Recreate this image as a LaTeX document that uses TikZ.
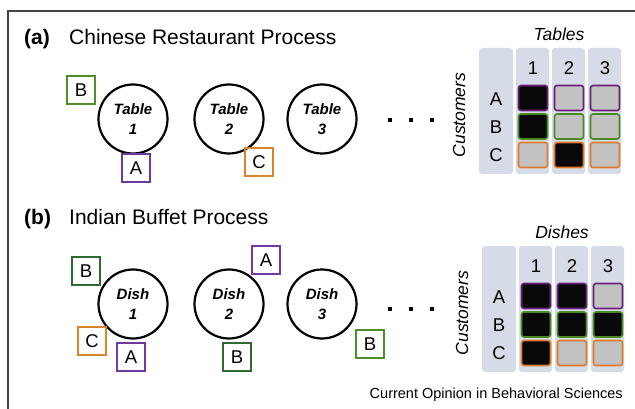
\documentclass[tikz,border=0pt]{standalone}
\usepackage{fontspec}
\setmainfont{Liberation Sans}
\definecolor{panelc}{HTML}{D6DBE8}
\definecolor{cellgray}{HTML}{C2C2C2}
\definecolor{cellblack}{HTML}{080808}
\definecolor{cpurple}{HTML}{7038A0}
\definecolor{cgreen}{HTML}{4F8F2A}
\definecolor{cdgreen}{HTML}{2F6A33}
\definecolor{corange}{HTML}{D9862B}
\definecolor{mpurple}{HTML}{6A2078}
\definecolor{mgreen}{HTML}{4A8A22}
\definecolor{morange}{HTML}{E07A28}
\definecolor{framec}{HTML}{444444}
\tikzset{
  panel/.style={fill=panelc, rounded corners=3pt, draw=none},
  cellbox/.style={rounded corners=2.5pt, line width=1.6pt, minimum width=29pt, minimum height=25pt, inner sep=0pt},
  cust/.style={draw, line width=1.3pt, minimum size=28pt, inner sep=0pt, font=\fontsize{18.5}{20}\selectfont},
  circ/.style={circle, draw, line width=2.2pt, minimum size=69pt, inner sep=0pt, align=center, font=\fontsize{15}{20}\selectfont\bfseries\itshape},
  title/.style={anchor=base west, inner sep=0pt, font=\fontsize{21}{24}\selectfont},
  lbl/.style={inner sep=0pt, font=\fontsize{18.5}{20}\selectfont},
  ilbl/.style={inner sep=0pt, font=\fontsize{17.5}{20}\selectfont\itshape},
  dotsq/.style={fill=black, minimum size=4pt, inner sep=0pt},
}
\begin{document}
\begin{tikzpicture}[x=1pt,y=-1pt]
\useasboundingbox (0,0) rectangle (635,409);
% frame
\coordinate (fbl) at (8,410);
\coordinate (ftl) at (8,11);
\coordinate (ftr) at (636,11);
\draw[framec, line width=1.6pt] (fbl) -- (ftl) -- (ftr);

% ---------- (a) ----------
\node[title, font=\fontsize{21}{24}\selectfont\bfseries] (alab) at (24,45) {(a)};
\node[title] (atitle) at (69,45) {Chinese Restaurant Process};
\node[circ] (t1) at (133,119) {Table\\1};
\node[circ] (t2) at (229,119) {Table\\2};
\node[circ] (t3) at (322,119) {Table\\3};
\node[cust, draw=cgreen] (aB) at (81,90) {B};
\node[cust, draw=cpurple] (aA) at (136,168) {A};
\node[cust, draw=corange] (aC) at (259,162) {C};
\node[dotsq] (ad1) at (390,120) {};
\node[dotsq] (ad2) at (411,120) {};
\node[dotsq] (ad3) at (432,120) {};

% ---------- (b) ----------
\node[title, font=\fontsize{21}{24}\selectfont\bfseries] (blab) at (24,224) {(b)};
\node[title] (btitle) at (69,224) {Indian Buffet Process};
\node[circ] (d1) at (133,304) {Dish\\1};
\node[circ] (d2) at (229,304) {Dish\\2};
\node[circ] (d3) at (322,304) {Dish\\3};
\node[cust, draw=cdgreen] (bB1) at (86,271) {B};
\node[cust, draw=corange] (bC1) at (92,341) {C};
\node[cust, draw=cpurple] (bA1) at (131,357) {A};
\node[cust, draw=cpurple] (bA2) at (266,260) {A};
\node[cust, draw=cdgreen] (bB2) at (237,357) {B};
\node[cust, draw=cgreen] (bB3) at (370,344) {B};
\node[dotsq] (bd1) at (390,309) {};
\node[dotsq] (bd2) at (411,309) {};
\node[dotsq] (bd3) at (432,309) {};

% ---------- matrices ----------
\foreach \ox/\oy/\pre/\head/\fills in {479/48/ma/Tables/{cellblack,cellgray,cellgray,cellblack,cellgray,cellgray,cellgray,cellblack,cellgray},
                                        482/246/mb/Dishes/{cellblack,cellblack,cellgray,cellblack,cellblack,cellblack,cellblack,cellgray,cellgray}}{
  \begin{scope}[shift={(\ox pt,-\oy pt)}, name prefix=\pre-]
    \fill[panel] (0,0) rectangle (34,126);
    \fill[panel] (37,0) rectangle (70,126);
    \fill[panel] (73,0) rectangle (106,126);
    \fill[panel] (109,0) rectangle (142,126);
    \node[ilbl] (head) at (80,-14) {\head};
    \node[ilbl, rotate=90] (custs) at (-20,67) {Customers};
    \node[lbl] (n1) at (54,20) {1};
    \node[lbl] (n2) at (90,20) {2};
    \node[lbl] (n3) at (126,20) {3};
    \node[lbl] (rA) at (17,51) {A};
    \node[lbl] (rB) at (17,79.5) {B};
    \node[lbl] (rC) at (17,107.5) {C};
    \foreach \f [count=\i from 0] in \fills {
      \pgfmathtruncatemacro{\r}{int(\i/3)}
      \pgfmathtruncatemacro{\c}{mod(\i,3)}
      \pgfmathsetmacro{\cx}{54+36*\c}
      \pgfmathsetmacro{\cy}{50+28.5*\r}
      \ifcase\r \def\bc{mpurple}\or \def\bc{mgreen}\or \def\bc{morange}\fi
      \node[cellbox, draw=\bc, fill=\f] (cell\r\c) at (\cx,\cy) {};
    }
  \end{scope}
}

\node[anchor=base east, inner sep=0pt, font=\fontsize{14.5}{16}\selectfont] (credit) at (623,398) {Current Opinion in Behavioral Sciences};
\end{tikzpicture}
\end{document}
